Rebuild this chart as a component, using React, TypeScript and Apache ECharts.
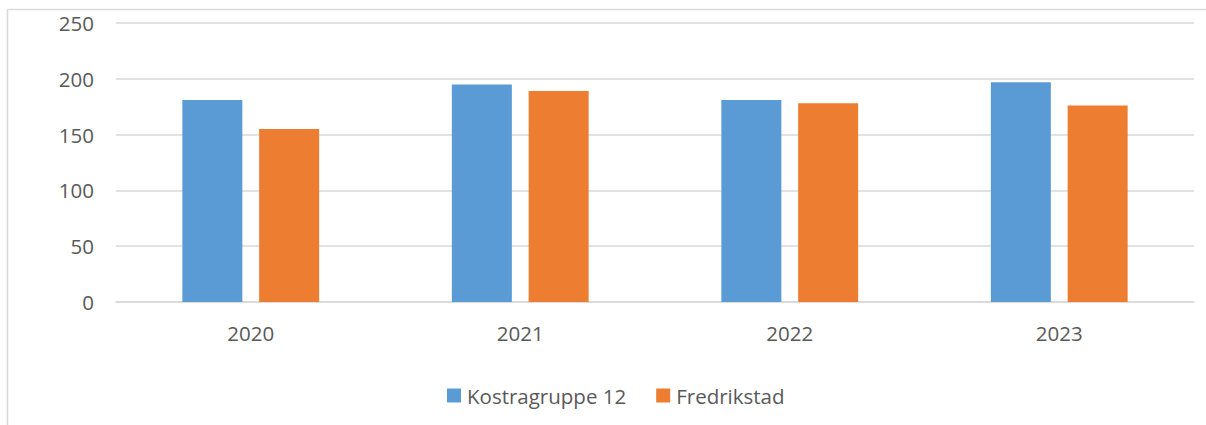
import React, { useEffect, useRef } from "react";
import * as echarts from "echarts";

const categories = ["2020", "2021", "2022", "2023"];
const kostragruppe = [181, 195, 181, 197];
const fredrikstad = [155, 189, 178, 176];
const seriesNames = ["Kostragruppe 12", "Fredrikstad"];

export default function App() {
  const ref = useRef<HTMLDivElement>(null);
  useEffect(() => {
    if (!ref.current) return;
    const chart = echarts.init(ref.current, null, { renderer: "svg" });
    const font = "'Open Sans', sans-serif";
    chart.setOption({
      animation: false,
      backgroundColor: "#ffffff",
      textStyle: { fontFamily: font },
      graphic: [
        {
          type: "rect",
          shape: { x: 7.5, y: 9.5, width: 1400, height: 600 },
          style: { fill: "none", stroke: "#d9d9d9", lineWidth: 1.5 },
          silent: true,
        },
      ],
      grid: { left: 116, right: 12, top: 23, bottom: 123 },
      legend: {
        data: seriesNames,
        left: 442,
        top: 380,
        itemWidth: 14,
        itemHeight: 14,
        itemGap: 30,
        icon: "rect",
        textStyle: { fontFamily: font, fontSize: 20.5, color: "#595959", padding: [0, 0, 0, 1] },
      },
      xAxis: {
        type: "category",
        data: categories,
        axisTick: { show: false },
        axisLine: { show: true, lineStyle: { color: "#d9d9d9", width: 1.5 } },
        axisLabel: { fontFamily: font, fontSize: 20.5, color: "#595959", margin: 20 },
      },
      yAxis: {
        type: "value",
        min: 0,
        max: 250,
        interval: 50,
        axisLine: { show: false },
        axisTick: { show: false },
        splitLine: { lineStyle: { color: "#d9d9d9", width: 1.5 } },
        axisLabel: { fontFamily: font, fontSize: 20.5, color: "#595959", margin: 22 },
      },
      series: [
        {
          name: seriesNames[0],
          type: "bar",
          data: kostragruppe,
          barWidth: 60,
          barGap: "28%",
          itemStyle: { color: "#5B9BD5" },
        },
        {
          name: seriesNames[1],
          type: "bar",
          data: fredrikstad,
          barWidth: 60,
          barGap: "28%",
          itemStyle: { color: "#ED7D31" },
        },
      ],
    });
    return () => chart.dispose();
  }, []);
  return (
    <div
      ref={ref}
      style={{ position: "fixed", left: 0, top: 0, width: 1206, height: 425 }}
    />
  );
}
